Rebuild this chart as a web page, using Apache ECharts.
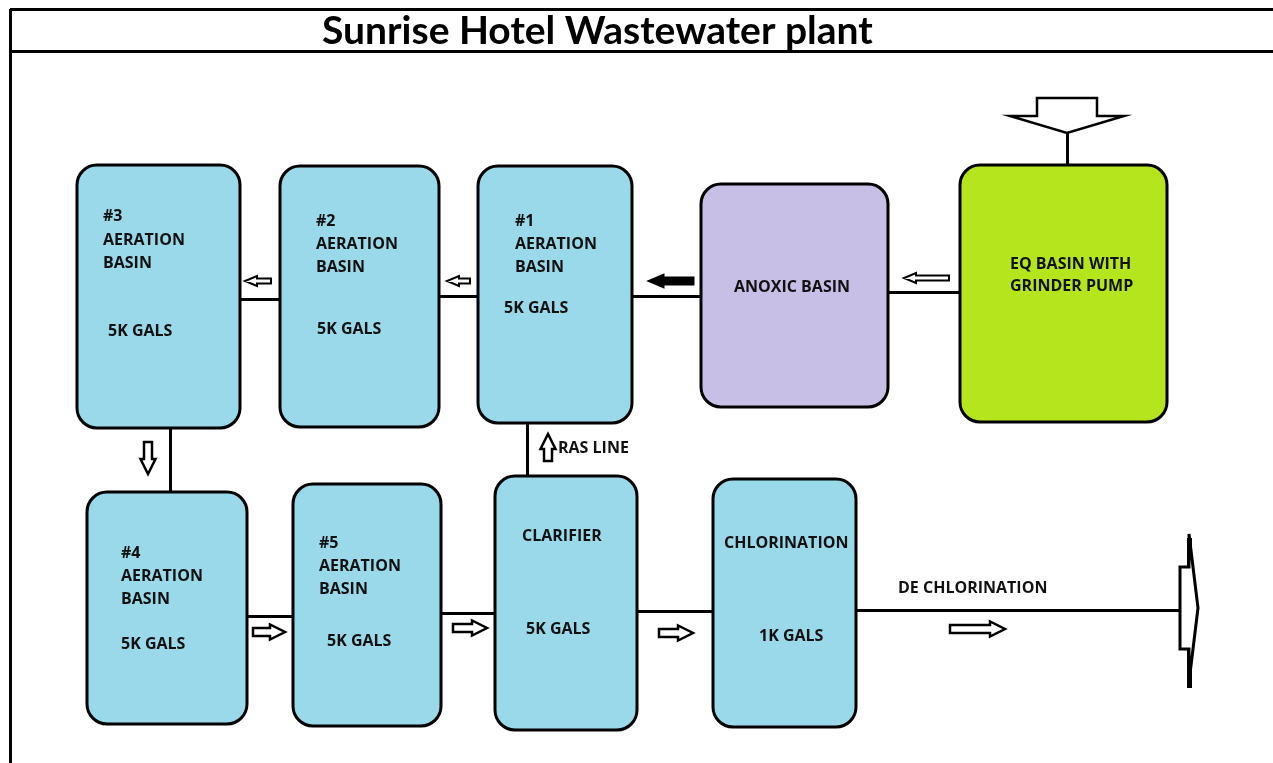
<!DOCTYPE html>
<html>
<head>
<meta charset="utf-8">
<title>Sunrise Hotel Wastewater plant</title>
<script src="https://cdn.jsdelivr.net/npm/echarts@6/dist/echarts.min.js"></script>
<style>
  html, body { margin: 0; padding: 0; background: #fff; }
  #chart { width: 1273px; height: 763px; }
</style>
</head>
<body>
<div id="chart"></div>
<script>
// basins: [x0, y0, x1, y1, kind]
const basins = [
  [77, 165, 240, 428, 'aeration'],   // #3
  [280, 166, 439, 427, 'aeration'],  // #2
  [478, 166, 632, 423, 'aeration'],  // #1
  [701, 184, 888, 407, 'anoxic'],
  [960, 165, 1167, 422, 'eq'],
  [87, 492, 247, 724, 'aeration'],   // #4
  [293, 484, 441, 726, 'aeration'],  // #5
  [495, 476, 637, 730, 'aeration'],  // clarifier
  [713, 479, 856, 727, 'aeration']   // chlorination
]

// pipes between basins: [[x1, y1], [x2, y2]]
const pipes = [
  [[240, 299], [280, 299]],
  [[439, 296], [478, 296]],
  [[632, 296], [701, 296]],
  [[888, 292], [960, 292]],
  [[170, 428], [170, 492]],
  [[527, 423], [527, 476]],
  [[247, 616], [293, 616]],
  [[441, 613], [495, 613]],
  [[637, 611], [713, 611]],
  [[856, 610], [1189, 610]],
  [[1067, 133], [1067, 165]]
]
const outletLine = [[1189, 538], [1189, 688]]
const frame = [
  [[10, 9], [1273, 9]],
  [[10, 51], [1273, 51]],
  [[10, 9], [10, 763]]
]

// flow arrows: [tailX, tailY, direction, length, kind]
const arrows = [
  [271, 281, 'L', 26, 'thin'],
  [470, 281, 'L', 23, 'thin'],
  [693, 281, 'L', 43, 'heavy'],
  [949, 278, 'L', 45, 'thin'],
  [148, 442, 'D', 32, 'mid'],
  [253, 632, 'R', 32, 'mid'],
  [453, 628, 'R', 34, 'mid'],
  [659, 633, 'R', 34, 'mid'],
  [950, 629, 'R', 55, 'mid'],
  [548, 461, 'U', 27, 'mid'],
  [1067, 98, 'D', 35, 'big'],
  [1180, 608, 'R', 18, 'outlet']
]

// labels: [x, y, text]
const labels = [
  [103, 216, '#3'], [103, 240, 'AERATION'], [103, 263, 'BASIN'], [108, 331, '5K GALS'],
  [316, 221, '#2'], [316, 244, 'AERATION'], [316, 267, 'BASIN'], [317, 329, '5K GALS'],
  [515, 221, '#1'], [515, 244, 'AERATION'], [515, 267, 'BASIN'], [504, 308, '5K GALS'],
  [734, 287, 'ANOXIC BASIN'],
  [1010, 264, 'EQ BASIN WITH'], [1010, 286, 'GRINDER PUMP'],
  [121, 553, '#4'], [121, 576, 'AERATION'], [121, 599, 'BASIN'], [121, 644, '5K GALS'],
  [319, 543, '#5'], [319, 566, 'AERATION'], [319, 589, 'BASIN'], [327, 641, '5K GALS'],
  [522, 536, 'CLARIFIER'], [526, 629, '5K GALS'],
  [724, 543, 'CHLORINATION'], [759, 636, '1K GALS'],
  [898, 588, 'DE CHLORINATION'],
  [558, 448, 'RAS LINE']
]

const basinColor = { aeration: '#99d9ea', anoxic: '#c8bfe7', eq: '#b5e61d' }
// shaft half width, head half width, head length, stroke width, fill
const arrowShape = {
  thin: [2.5, 5, 12, 2, '#fff'],
  heavy: [3, 5.5, 13, 3, '#000'],
  mid: [4, 7.5, 15, 2.5, '#fff'],
  big: [30, 57, 17, 2.5, '#fff'],
  outlet: [41, 74, 9, 3, '#fff']
}
const dirs = { L: [-1, 0], R: [1, 0], U: [0, -1], D: [0, 1] }

const chart = echarts.init(document.getElementById('chart'))

chart.setOption({
  backgroundColor: '#fff',
  animation: false,
  title: {
    text: 'Sunrise Hotel Wastewater plant',
    left: 322,
    top: 12,
    padding: 0,
    textStyle: {
      fontFamily: 'Lato',
      fontWeight: 'bold',
      fontSize: 39,
      color: '#000'
    }
  },
  grid: { left: 0, right: 0, top: 0, bottom: 0 },
  xAxis: { type: 'value', min: 0, max: 1273, show: false },
  yAxis: { type: 'value', min: 0, max: 763, inverse: true, show: false },
  series: [
    {
      type: 'lines',
      coordinateSystem: 'cartesian2d',
      z: 1,
      silent: true,
      lineStyle: { color: '#000', width: 3, opacity: 1 },
      data: pipes.concat(frame).map(c => ({ coords: c }))
        .concat([{ coords: outletLine, lineStyle: { width: 5 } }])
    },
    {
      type: 'custom',
      z: 2,
      clip: false,
      silent: true,
      data: basins,
      renderItem(params, api) {
        const b = basins[params.dataIndex]
        const p0 = api.coord([b[0], b[1]])
        const p1 = api.coord([b[2], b[3]])
        return {
          type: 'rect',
          shape: { x: p0[0], y: p0[1], width: p1[0] - p0[0], height: p1[1] - p0[1], r: 20 },
          style: { fill: basinColor[b[4]], stroke: '#000', lineWidth: 3 }
        }
      }
    },
    {
      type: 'custom',
      z: 3,
      clip: false,
      silent: true,
      data: arrows,
      renderItem(params, api) {
        const a = arrows[params.dataIndex]
        const [sh, hh, hl, lw, fill] = arrowShape[a[4]]
        const d = dirs[a[2]]
        const L = a[3]
        const local = [[0, -sh], [L - hl, -sh], [L - hl, -hh], [L, 0], [L - hl, hh], [L - hl, sh], [0, sh]]
        const pts = local.map(([u, v]) => api.coord([
          a[0] + u * d[0] - v * d[1],
          a[1] + u * d[1] + v * d[0]
        ]))
        return {
          type: 'polygon',
          shape: { points: pts },
          style: { fill: fill, stroke: '#000', lineWidth: lw, lineJoin: 'miter' }
        }
      }
    },
    {
      type: 'custom',
      z: 4,
      clip: false,
      silent: true,
      data: labels,
      renderItem(params, api) {
        const t = labels[params.dataIndex]
        const p = api.coord([t[0], t[1]])
        return {
          type: 'text',
          x: p[0],
          y: p[1],
          style: {
            text: t[2],
            fill: '#111',
            font: 'bold 16px "Open Sans"',
            align: 'left',
            verticalAlign: 'middle'
          }
        }
      }
    }
  ]
})
</script>
</body>
</html>
